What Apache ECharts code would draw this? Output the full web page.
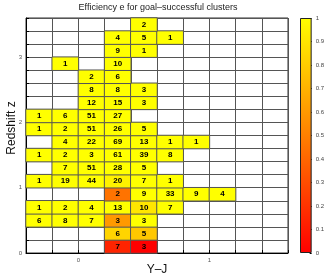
<!DOCTYPE html>
<html><head><meta charset="utf-8">
<script src="https://cdn.jsdelivr.net/npm/echarts@6/dist/echarts.min.js"></script>
<style>html,body{margin:0;padding:0;background:#fff}#c{width:327px;height:279px}</style>
</head><body><div id="c"></div>
<script>
// Column centres (Y-J), row centres (z)
const xCats = ['-0.3','-0.1','0.1','0.3','0.5','0.7','0.9','1.1','1.3','1.5'];
const yCats = ['0.1','0.3','0.5','0.7','0.9','1.1','1.3','1.5','1.7','1.9','2.1','2.3','2.5','2.7','2.9','3.1','3.3','3.5'];
// counts per row (bottom to top): [colIndex, count, efficiency]
const row0  = [[3,7,0.14],[4,3,0.0]];
const row1  = [[3,6,0.83],[4,5,0.78]];
const row2  = [[0,6,1],[1,8,1],[2,7,1],[3,3,0.6],[4,3,1]];
const row3  = [[0,1,1],[1,2,1],[2,4,1],[3,13,1],[4,10,0.9],[5,7,1]];
const row4  = [[3,2,0.45],[4,9,1],[5,33,1],[6,9,1],[7,4,1]];
const row5  = [[0,1,1],[1,19,1],[2,44,1],[3,20,0.95],[4,7,1],[5,1,1]];
const row6  = [[1,7,1],[2,51,1],[3,28,1],[4,5,1]];
const row7  = [[0,1,1],[1,2,1],[2,3,1],[3,61,1],[4,39,1],[5,8,1]];
const row8  = [[1,4,1],[2,22,1],[3,69,1],[4,13,1],[5,1,1],[6,1,1]];
const row9  = [[0,1,1],[1,2,1],[2,51,1],[3,26,1],[4,5,1]];
const row10 = [[0,1,1],[1,6,1],[2,51,1],[3,27,1]];
const row11 = [[2,12,1],[3,15,1],[4,3,1]];
const row12 = [[2,8,1],[3,8,1],[4,3,1]];
const row13 = [[2,2,1],[3,6,1]];
const row14 = [[1,1,1],[3,10,1]];
const row15 = [[3,9,1],[4,1,1]];
const row16 = [[3,4,1],[4,5,1],[5,1,1]];
const row17 = [[4,2,1]];
const rows = [row0,row1,row2,row3,row4,row5,row6,row7,row8,row9,row10,row11,row12,row13,row14,row15,row16,row17];
const cbTicks = [0,0.1,0.2,0.3,0.4,0.5,0.6,0.7,0.8,0.9,1];

const data = [];
rows.forEach((r, yi) => r.forEach(c => data.push([c[0], yi, c[2], c[1]])));

const font = 'Liberation Sans, Arial, sans-serif';
const intFmt = v => Math.abs(v - Math.round(v)) < 1e-9 ? String(Math.round(v)) : '';
const chart = echarts.init(document.getElementById('c'), null, {renderer:'canvas'});
chart.setOption({
  animation:false,
  textStyle:{fontFamily:font},
  grid:[
    {left:26, right:39, top:18, bottom:26, show:true, borderColor:'#333', borderWidth:1},
    {left:300, width:13, top:18, bottom:26}
  ],
  visualMap:{show:false, min:0, max:1, dimension:2, seriesIndex:0, inRange:{color:['#ff0000','#ffff00']}},
  xAxis:[
    {type:'category', gridIndex:0, data:xCats, axisLine:{show:false}, axisTick:{show:false}, axisLabel:{show:false},
     splitLine:{show:true, interval:0, lineStyle:{color:'#555', width:1}}},
    {type:'value', gridIndex:0, min:-0.4, max:1.6, interval:0.2, position:'bottom',
     axisLine:{show:true, lineStyle:{color:'#000'}}, axisTick:{show:true, inside:true, length:3, lineStyle:{color:'#000'}},
     axisLabel:{formatter:intFmt, fontSize:6, color:'#555', margin:4}, splitLine:{show:false}},
    {type:'category', gridIndex:1, data:['c'], show:false}
  ],
  yAxis:[
    {type:'category', gridIndex:0, data:yCats, axisLine:{show:false}, axisTick:{show:false}, axisLabel:{show:false},
     splitLine:{show:true, interval:0, lineStyle:{color:'#555', width:1}}},
    {type:'value', gridIndex:0, min:0, max:3.6, interval:0.2, position:'left',
     axisLine:{show:true, lineStyle:{color:'#000'}}, axisTick:{show:true, inside:true, length:3, lineStyle:{color:'#000'}},
     axisLabel:{formatter:intFmt, fontSize:6, color:'#555', margin:4}, splitLine:{show:false}},
    {type:'value', gridIndex:1, min:0, max:1, interval:0.1, position:'right',
     axisLine:{show:false}, axisTick:{show:true, inside:true, length:2, lineStyle:{color:'#000'}},
     axisLabel:{fontSize:6, color:'#444', margin:4}, splitLine:{show:false}}
  ],
  series:[
    {type:'heatmap', xAxisIndex:0, yAxisIndex:0, data:data,
     itemStyle:{borderColor:'#555', borderWidth:1},
     label:{show:true, formatter:p => String(p.value[3]), fontSize:8, fontWeight:'bold', color:'#000', fontFamily:font}},
    {type:'bar', xAxisIndex:2, yAxisIndex:2, data:[1], barWidth:'100%', silent:true,
     itemStyle:{borderColor:'#222', borderWidth:1,
       color:new echarts.graphic.LinearGradient(0,0,0,1,[{offset:0,color:'#ffff00'},{offset:1,color:'#ff0000'}])}}
  ],
  graphic:[
    {type:'text', x:158, y:8, style:{text:'Efficiency e for goal\u2013successful clusters', font:'9px '+font, fill:'#222', align:'center', verticalAlign:'middle'}},
    {type:'text', x:157, y:270, style:{text:'Y\u2013J', font:'12px '+font, fill:'#111', align:'center', verticalAlign:'middle'}},
    {type:'text', x:12, y:128, rotation:Math.PI/2, style:{text:'Redshift z', font:'12px '+font, fill:'#111', align:'center', verticalAlign:'middle'}}
  ]
});
</script></body></html>
